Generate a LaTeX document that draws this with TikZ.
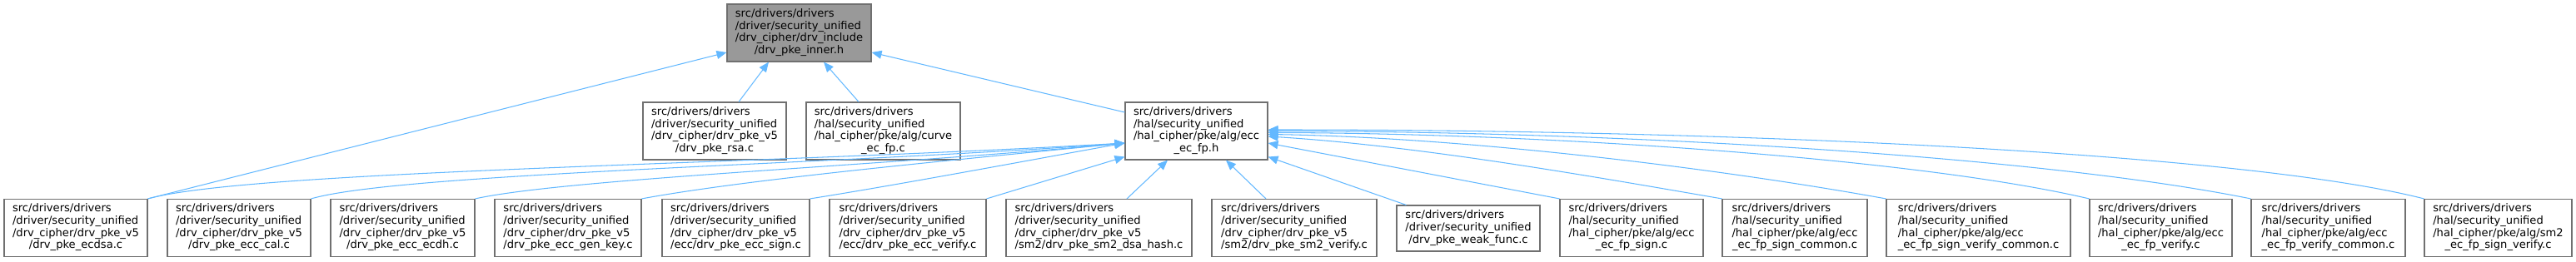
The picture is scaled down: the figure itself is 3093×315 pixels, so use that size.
\documentclass[tikz,border=0pt]{standalone}
\usepackage{fontspec}
\setmainfont{DejaVu Sans}
\usetikzlibrary{arrows.meta}
\definecolor{edgeblue}{HTML}{63B8FF}
\definecolor{boxborder}{HTML}{707070}
\definecolor{mainfill}{HTML}{999999}
\newcommand{\flab}[4]{\begin{tabular}{@{}l@{}}#1\\#2\\#3\\\multicolumn{1}{@{}c@{}}{#4}\end{tabular}}
\newcommand{\tlab}[3]{\begin{tabular}{@{}l@{}}#1\\#2\\\multicolumn{1}{@{}c@{}}{#3}\end{tabular}}
\tikzset{
  filebox/.style={draw=boxborder, line width=1.1pt, fill=white, inner sep=0pt,
    font=\fontsize{13.1}{14.7}\selectfont, anchor=center, minimum height=69pt},
  mainbox/.style={filebox, fill=mainfill},
  dep/.style={draw=edgeblue, line width=1.05pt, -{Triangle[length=12pt,width=10pt]}},
}
\begin{document}
\begin{tikzpicture}[x=1pt,y=-1pt]
\useasboundingbox (0,0) rectangle (3093,315);
% top
\node[mainbox, minimum width=173pt] (inner) at (959.5,39.5)
  {\flab{src/drivers/drivers}{/driver/security\_unified}{/drv\_cipher/drv\_include}{/drv\_pke\_inner.h}};
% middle row
\node[filebox, minimum width=172pt] (rsa) at (858,157.5)
  {\flab{src/drivers/drivers}{/driver/security\_unified}{/drv\_cipher/drv\_pke\_v5}{/drv\_pke\_rsa.c}};
\node[filebox, minimum width=185pt] (curve) at (1060.5,157.5)
  {\flab{src/drivers/drivers}{/hal/security\_unified}{/hal\_cipher/pke/alg/curve}{\_ec\_fp.c}};
\node[filebox, minimum width=171pt] (ecfp) at (1436.5,157.5)
  {\flab{src/drivers/drivers}{/hal/security\_unified}{/hal\_cipher/pke/alg/ecc}{\_ec\_fp.h}};
% bottom row
\node[filebox, minimum width=172pt] (b1) at (91,274)
  {\flab{src/drivers/drivers}{/driver/security\_unified}{/drv\_cipher/drv\_pke\_v5}{/drv\_pke\_ecdsa.c}};
\node[filebox, minimum width=172pt] (b2) at (287,274)
  {\flab{src/drivers/drivers}{/driver/security\_unified}{/drv\_cipher/drv\_pke\_v5}{/drv\_pke\_ecc\_cal.c}};
\node[filebox, minimum width=173pt] (b3) at (483.5,274)
  {\flab{src/drivers/drivers}{/driver/security\_unified}{/drv\_cipher/drv\_pke\_v5}{/drv\_pke\_ecc\_ecdh.c}};
\node[filebox, minimum width=176pt] (b4) at (682,274)
  {\flab{src/drivers/drivers}{/driver/security\_unified}{/drv\_cipher/drv\_pke\_v5}{/drv\_pke\_ecc\_gen\_key.c}};
\node[filebox, minimum width=177pt] (b5) at (883.5,274)
  {\flab{src/drivers/drivers}{/driver/security\_unified}{/drv\_cipher/drv\_pke\_v5}{/ecc/drv\_pke\_ecc\_sign.c}};
\node[filebox, minimum width=188pt] (b6) at (1090,274)
  {\flab{src/drivers/drivers}{/driver/security\_unified}{/drv\_cipher/drv\_pke\_v5}{/ecc/drv\_pke\_ecc\_verify.c}};
\node[filebox, minimum width=223pt] (b7) at (1319.5,274)
  {\flab{src/drivers/drivers}{/driver/security\_unified}{/drv\_cipher/drv\_pke\_v5}{/sm2/drv\_pke\_sm2\_dsa\_hash.c}};
\node[filebox, minimum width=198pt] (b8) at (1554,274)
  {\flab{src/drivers/drivers}{/driver/security\_unified}{/drv\_cipher/drv\_pke\_v5}{/sm2/drv\_pke\_sm2\_verify.c}};
\node[filebox, minimum width=172pt, minimum height=55pt] (b9) at (1763,274.5)
  {\tlab{src/drivers/drivers}{/driver/security\_unified}{/drv\_pke\_weak\_func.c}};
\node[filebox, minimum width=172pt] (b10) at (1959,274)
  {\flab{src/drivers/drivers}{/hal/security\_unified}{/hal\_cipher/pke/alg/ecc}{\_ec\_fp\_sign.c}};
\node[filebox, minimum width=174pt] (b11) at (2155,274)
  {\flab{src/drivers/drivers}{/hal/security\_unified}{/hal\_cipher/pke/alg/ecc}{\_ec\_fp\_sign\_common.c}};
\node[filebox, minimum width=221pt] (b12) at (2375.5,274)
  {\flab{src/drivers/drivers}{/hal/security\_unified}{/hal\_cipher/pke/alg/ecc}{\_ec\_fp\_sign\_verify\_common.c}};
\node[filebox, minimum width=171pt] (b13) at (2594.5,274)
  {\flab{src/drivers/drivers}{/hal/security\_unified}{/hal\_cipher/pke/alg/ecc}{\_ec\_fp\_verify.c}};
\node[filebox, minimum width=185pt] (b14) at (2795.5,274)
  {\flab{src/drivers/drivers}{/hal/security\_unified}{/hal\_cipher/pke/alg/ecc}{\_ec\_fp\_verify\_common.c}};
\node[filebox, minimum width=177pt] (b15) at (2999.5,274)
  {\flab{src/drivers/drivers}{/hal/security\_unified}{/hal\_cipher/pke/alg/sm2}{\_ec\_fp\_sign\_verify.c}};
% edges to inner
\draw[dep] (b1.north east) -- ([yshift=-23.5pt]inner.west);
\draw[dep] ([xshift=29pt]rsa.north) -- ([xshift=-36.5pt]inner.south);
\draw[dep] ([xshift=-29.5pt]curve.north) -- ([xshift=29.5pt]inner.south);
\draw[dep] ([yshift=22.5pt]ecfp.west) -- ([yshift=-23.5pt]inner.east);
% edges to ecfp, left side
\draw[dep] (b1.north east) .. controls (300,205) and (900,198) .. ([yshift=-14.5pt]ecfp.west);
\draw[dep] (b2.north east) .. controls (480,208) and (1000,198) .. ([yshift=-14.5pt]ecfp.west);
\draw[dep] (b3.north east) .. controls (680,215) and (1050,200) .. ([yshift=-14.5pt]ecfp.west);
\draw[dep] (b4.north east) .. controls (900,215) and (1150,192) .. ([yshift=-14.5pt]ecfp.west);
\draw[dep] (b5.north east) .. controls (1080,222) and (1250,190) .. ([yshift=-14.5pt]ecfp.west);
\draw[dep] (b6.north east) -- ([yshift=-31pt]ecfp.west);
% below
\draw[dep] ([xshift=33.5pt]b7.north) -- ([xshift=-34.5pt]ecfp.south);
\draw[dep] ([xshift=-34pt]b8.north) -- ([xshift=35.5pt]ecfp.south);
% right side
\draw[dep] ([xshift=12pt]b9.north west) -- ([yshift=-31pt]ecfp.east);
\draw[dep] (b10.north west) -- ([yshift=-14.5pt]ecfp.east);
\draw[dep] (b11.north west) .. controls (1900,210) and (1700,175) .. ([yshift=-6.5pt]ecfp.east);
\draw[dep] (b12.north west) .. controls (2050,200) and (1750,165) .. ([yshift=-4pt]ecfp.east);
\draw[dep] (b13.north west) .. controls (2300,190) and (1850,160) .. ([yshift=-2pt]ecfp.east);
\draw[dep] (b14.north west) .. controls (2450,188) and (1950,158) .. ([yshift=0pt]ecfp.east);
\draw[dep] (b15.north west) .. controls (2700,185) and (2100,156) .. ([yshift=1.5pt]ecfp.east);
\end{tikzpicture}
\end{document}
